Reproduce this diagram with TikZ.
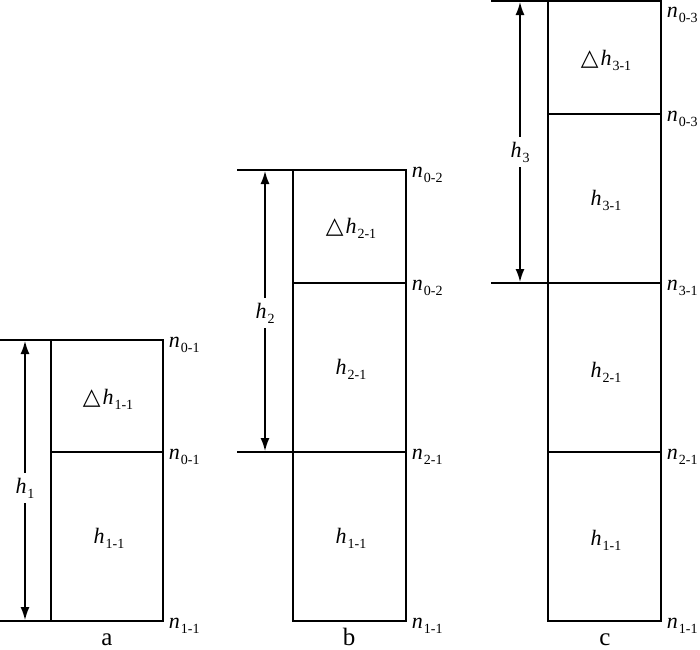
\documentclass[tikz,border=0pt]{standalone}
\usepackage{fontspec}
\setmainfont{Liberation Serif}
\newfontfamily\symfont{DejaVu Sans}
\usetikzlibrary{arrows.meta}
\newcommand{\vsub}[2]{{\fontsize{22}{22}\selectfont\itshape #1}\kern1pt\raisebox{-5pt}{\fontsize{14}{14}\selectfont #2}}
\newcommand{\dsub}[2]{{\fontsize{23}{23}\selectfont\symfont △}\kern2pt\vsub{#1}{#2}}
\begin{document}
\begin{tikzpicture}[x=1pt,y=-1pt,line width=1.7pt,
  dimline/.style={{Latex[length=13pt,width=9pt]}-{Latex[length=13pt,width=9pt]}, line width=1.5pt},
  nlab/.style={anchor=west, inner sep=0pt},
  hlab/.style={fill=white, inner xsep=1pt, inner ysep=5pt},
  inlab/.style={inner sep=0pt},
  caplab/.style={anchor=base, inner sep=0pt, font=\fontsize{25}{25}\selectfont}]
\useasboundingbox (0,0) rectangle (700,649);

% ---------- panel a ----------
\draw (0,340) -- (163,340) -- (163,621) -- (0,621);
\draw (51,340) -- (51,621);
\draw (51,452) -- (163,452);
\coordinate (a1) at (25,341);
\coordinate (a2) at (25,620);
\draw[dimline] (a1) -- (a2);
\node[hlab] (ha) at (25,488) {\vsub{h}{1}};
\node[inlab] (da) at (108,399) {\dsub{h}{1-1}};
\node[inlab] (ma) at (109,538) {\vsub{h}{1-1}};
\node[nlab] (na1) at (168,345) {\vsub{n}{0-1}};
\node[nlab] (na2) at (168,457) {\vsub{n}{0-1}};
\node[nlab] (na3) at (168,626) {\vsub{n}{1-1}};
\node[caplab] (la) at (107,645) {a};

% ---------- panel b ----------
\draw (237,170) -- (406,170) -- (406,621) -- (293,621) -- (293,170);
\draw (293,283) -- (406,283);
\draw (237,452) -- (406,452);
\coordinate (b1) at (265,171);
\coordinate (b2) at (265,451);
\draw[dimline] (b1) -- (b2);
\node[hlab] (hb) at (265,313) {\vsub{h}{2}};
\node[inlab] (db) at (351,228) {\dsub{h}{2-1}};
\node[inlab] (mb) at (351,369) {\vsub{h}{2-1}};
\node[inlab] (lb1) at (351,538) {\vsub{h}{1-1}};
\node[nlab] (nb1) at (411,175) {\vsub{n}{0-2}};
\node[nlab] (nb2) at (411,288) {\vsub{n}{0-2}};
\node[nlab] (nb3) at (411,457) {\vsub{n}{2-1}};
\node[nlab] (nb4) at (411,626) {\vsub{n}{1-1}};
\node[caplab] (lb) at (349,645) {b};

% ---------- panel c ----------
\draw (491,1) -- (661,1) -- (661,621) -- (548,621) -- (548,1);
\draw (548,114) -- (661,114);
\draw (491,283) -- (661,283);
\draw (548,452) -- (661,452);
\coordinate (c1) at (520,2);
\coordinate (c2) at (520,282);
\draw[dimline] (c1) -- (c2);
\node[hlab] (hc) at (520,152) {\vsub{h}{3}};
\node[inlab] (dc) at (606,60) {\dsub{h}{3-1}};
\node[inlab] (mc) at (606,200) {\vsub{h}{3-1}};
\node[inlab] (mc2) at (606,372) {\vsub{h}{2-1}};
\node[inlab] (mc3) at (606,540) {\vsub{h}{1-1}};
\node[nlab] (nc1) at (666,15) {\vsub{n}{0-3}};
\node[nlab] (nc2) at (666,119) {\vsub{n}{0-3}};
\node[nlab] (nc3) at (666,288) {\vsub{n}{3-1}};
\node[nlab] (nc4) at (666,457) {\vsub{n}{2-1}};
\node[nlab] (nc5) at (666,626) {\vsub{n}{1-1}};
\node[caplab] (lc) at (605,645) {c};
\end{tikzpicture}
\end{document}
